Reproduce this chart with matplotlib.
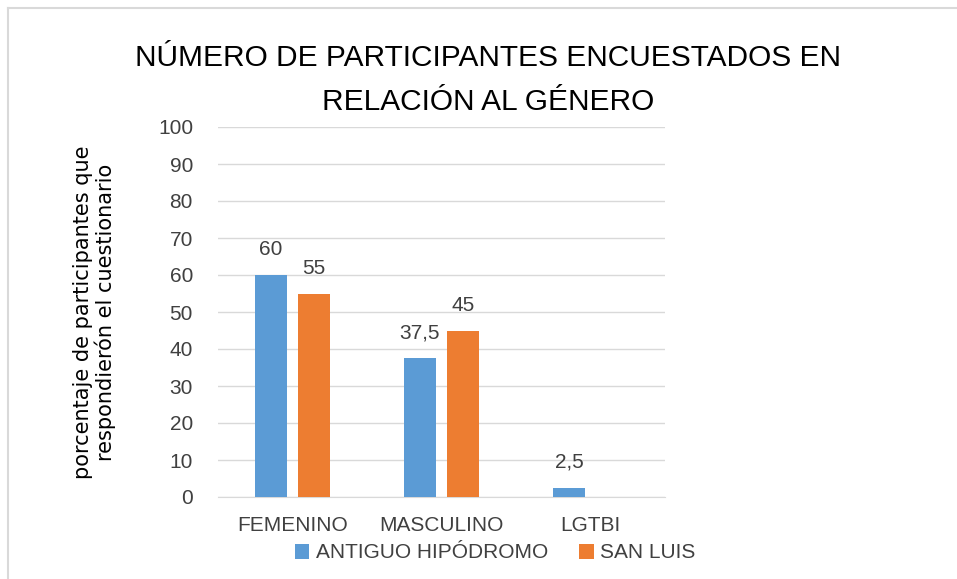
import numpy as np
import matplotlib.pyplot as plt
from matplotlib.lines import Line2D

# Data
categories = ["FEMENINO", "MASCULINO", "LGTBI"]
antiguo = [60, 37.5, 2.5]
san_luis = [55, 45, 0]
series_names = ["ANTIGUO HIPÓDROMO", "SAN LUIS"]
yticks = list(range(0, 101, 10))

plt.rcParams['font.family'] = ['Liberation Sans', 'DejaVu Sans']

fig = plt.figure(figsize=(9.57, 5.79), dpi=100)
ax = fig.add_axes([218 / 957, 1 - 497 / 579, (665 - 218) / 957, (497 - 127) / 579])

x = np.arange(len(categories))
w = 0.22
off = 0.145
b1 = ax.bar(x - off, antiguo, w, color="#5B9BD5", label=series_names[0], zorder=3)
b2 = ax.bar(x + off, san_luis, w, color="#ED7D31", label=series_names[1], zorder=3)

# Data labels (no label for empty bar)
for bars, vals in [(b1, antiguo), (b2, san_luis)]:
    for bar, v in zip(bars, vals):
        if v > 0:
            txt = f"{v:g}".replace(".", ",")
            ax.text(bar.get_x() + bar.get_width() / 2, v + 4.3, txt,
                    ha="center", va="bottom", fontsize=15, color="#404040")

ax.set_xlim(-0.5, 2.5)
ax.set_ylim(0, 100)
ax.set_yticks(yticks)
ax.set_xticks(x)
ax.set_xticklabels(categories)
ax.tick_params(axis="both", length=0, labelsize=15, labelcolor="#404040")
ax.tick_params(axis="y", pad=18)
ax.tick_params(axis="x", pad=14)
ax.grid(axis="y", color="#D9D9D9", linewidth=1, zorder=0)
for s in ["top", "right", "left"]:
    ax.spines[s].set_visible(False)
ax.spines["bottom"].set_color("#D9D9D9")

ax.set_ylabel("porcentaje de participantes que\nrespondierón el cuestionario",
              fontsize=15, color="#000000", labelpad=30, linespacing=1.1,
              family=['DejaVu Sans'])

fig.text(0.5 * (133 + 843) / 957, 1 - 80 / 579,
         "NÚMERO DE PARTICIPANTES ENCUESTADOS EN\nRELACIÓN AL GÉNERO",
         ha="center", va="center", fontsize=21.5, linespacing=1.75, color="#000000")

fig.legend(loc="center", bbox_to_anchor=(495 / 957, 1 - 553 / 579), ncol=2,
           frameon=False, fontsize=15, handlelength=0.7, handleheight=0.7,
           handletextpad=0.3, columnspacing=1.5, labelcolor="#404040")

# Chart border
fig.add_artist(Line2D([8 / 957, 8 / 957], [0, 1 - 8 / 579], transform=fig.transFigure,
                      color="#D9D9D9", linewidth=1.5))
fig.add_artist(Line2D([8 / 957, 1], [1 - 8 / 579, 1 - 8 / 579], transform=fig.transFigure,
                      color="#D9D9D9", linewidth=1.5))

fig.savefig("out.png", dpi=100)
